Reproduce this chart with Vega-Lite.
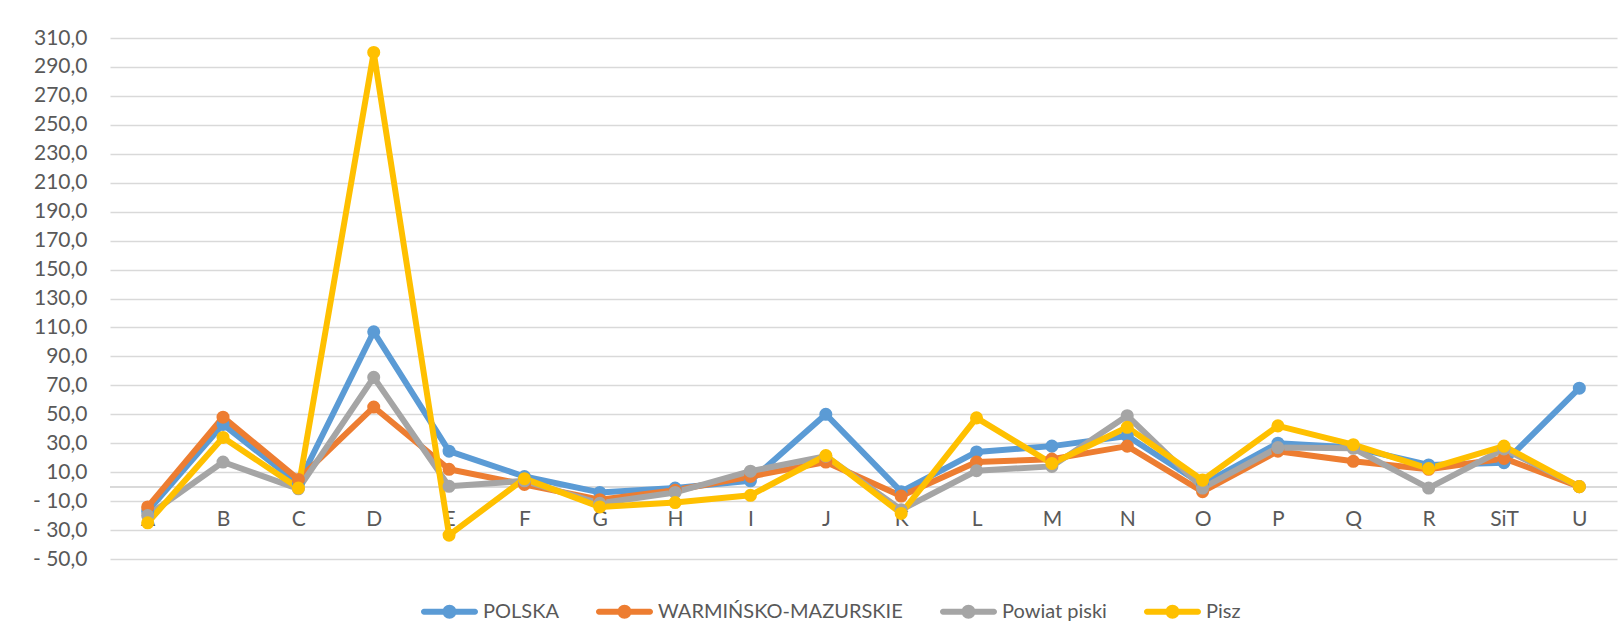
{
  "$schema": "https://vega.github.io/schema/vega-lite/v6.json",
  "width": 1507,
  "height": 521,
  "autosize": {"type": "none"},
  "padding": {"left": 110, "top": 38, "right": 7, "bottom": 84},
  "background": "white",
  "config": {
    "font": "Lato",
    "view": {"stroke": null},
    "axis": {"labelFont": "Lato", "labelColor": "#595959", "labelFontSize": 21}
  },
  "data": {"values": [
    {"cat": "A", "series": "POLSKA", "value": -17},
    {"cat": "B", "series": "POLSKA", "value": 43},
    {"cat": "C", "series": "POLSKA", "value": 2},
    {"cat": "D", "series": "POLSKA", "value": 107},
    {"cat": "E", "series": "POLSKA", "value": 24.5},
    {"cat": "F", "series": "POLSKA", "value": 7},
    {"cat": "G", "series": "POLSKA", "value": -4},
    {"cat": "H", "series": "POLSKA", "value": -1},
    {"cat": "I", "series": "POLSKA", "value": 4},
    {"cat": "J", "series": "POLSKA", "value": 50},
    {"cat": "K", "series": "POLSKA", "value": -3.5},
    {"cat": "L", "series": "POLSKA", "value": 24},
    {"cat": "M", "series": "POLSKA", "value": 28},
    {"cat": "N", "series": "POLSKA", "value": 35},
    {"cat": "O", "series": "POLSKA", "value": 1.5},
    {"cat": "P", "series": "POLSKA", "value": 30},
    {"cat": "Q", "series": "POLSKA", "value": 27},
    {"cat": "R", "series": "POLSKA", "value": 15},
    {"cat": "SiT", "series": "POLSKA", "value": 16.5},
    {"cat": "U", "series": "POLSKA", "value": 68},
    {"cat": "A", "series": "WARMIŃSKO-MAZURSKIE", "value": -14},
    {"cat": "B", "series": "WARMIŃSKO-MAZURSKIE", "value": 48},
    {"cat": "C", "series": "WARMIŃSKO-MAZURSKIE", "value": 5},
    {"cat": "D", "series": "WARMIŃSKO-MAZURSKIE", "value": 55},
    {"cat": "E", "series": "WARMIŃSKO-MAZURSKIE", "value": 12},
    {"cat": "F", "series": "WARMIŃSKO-MAZURSKIE", "value": 1.5},
    {"cat": "G", "series": "WARMIŃSKO-MAZURSKIE", "value": -9},
    {"cat": "H", "series": "WARMIŃSKO-MAZURSKIE", "value": -2.5},
    {"cat": "I", "series": "WARMIŃSKO-MAZURSKIE", "value": 7},
    {"cat": "J", "series": "WARMIŃSKO-MAZURSKIE", "value": 17},
    {"cat": "K", "series": "WARMIŃSKO-MAZURSKIE", "value": -6.5},
    {"cat": "L", "series": "WARMIŃSKO-MAZURSKIE", "value": 17},
    {"cat": "M", "series": "WARMIŃSKO-MAZURSKIE", "value": 19},
    {"cat": "N", "series": "WARMIŃSKO-MAZURSKIE", "value": 28},
    {"cat": "O", "series": "WARMIŃSKO-MAZURSKIE", "value": -3.5},
    {"cat": "P", "series": "WARMIŃSKO-MAZURSKIE", "value": 24.5},
    {"cat": "Q", "series": "WARMIŃSKO-MAZURSKIE", "value": 17.5},
    {"cat": "R", "series": "WARMIŃSKO-MAZURSKIE", "value": 12},
    {"cat": "SiT", "series": "WARMIŃSKO-MAZURSKIE", "value": 19.5},
    {"cat": "U", "series": "WARMIŃSKO-MAZURSKIE", "value": 0},
    {"cat": "A", "series": "Powiat piski", "value": -20},
    {"cat": "B", "series": "Powiat piski", "value": 17},
    {"cat": "C", "series": "Powiat piski", "value": -1.5},
    {"cat": "D", "series": "Powiat piski", "value": 75.5},
    {"cat": "E", "series": "Powiat piski", "value": 0.2},
    {"cat": "F", "series": "Powiat piski", "value": 4},
    {"cat": "G", "series": "Powiat piski", "value": -11.5},
    {"cat": "H", "series": "Powiat piski", "value": -4},
    {"cat": "I", "series": "Powiat piski", "value": 10.7},
    {"cat": "J", "series": "Powiat piski", "value": 21},
    {"cat": "K", "series": "Powiat piski", "value": -16},
    {"cat": "L", "series": "Powiat piski", "value": 11},
    {"cat": "M", "series": "Powiat piski", "value": 14},
    {"cat": "N", "series": "Powiat piski", "value": 49},
    {"cat": "O", "series": "Powiat piski", "value": -1},
    {"cat": "P", "series": "Powiat piski", "value": 27},
    {"cat": "Q", "series": "Powiat piski", "value": 26.5},
    {"cat": "R", "series": "Powiat piski", "value": -1},
    {"cat": "SiT", "series": "Powiat piski", "value": 26},
    {"cat": "U", "series": "Powiat piski", "value": 0},
    {"cat": "A", "series": "Pisz", "value": -25},
    {"cat": "B", "series": "Pisz", "value": 34},
    {"cat": "C", "series": "Pisz", "value": -1},
    {"cat": "D", "series": "Pisz", "value": 300},
    {"cat": "E", "series": "Pisz", "value": -33.5},
    {"cat": "F", "series": "Pisz", "value": 5.5},
    {"cat": "G", "series": "Pisz", "value": -14},
    {"cat": "H", "series": "Pisz", "value": -11},
    {"cat": "I", "series": "Pisz", "value": -6},
    {"cat": "J", "series": "Pisz", "value": 21.5},
    {"cat": "K", "series": "Pisz", "value": -18.5},
    {"cat": "L", "series": "Pisz", "value": 47.5},
    {"cat": "M", "series": "Pisz", "value": 16},
    {"cat": "N", "series": "Pisz", "value": 41},
    {"cat": "O", "series": "Pisz", "value": 4.5},
    {"cat": "P", "series": "Pisz", "value": 42},
    {"cat": "Q", "series": "Pisz", "value": 29},
    {"cat": "R", "series": "Pisz", "value": 12.5},
    {"cat": "SiT", "series": "Pisz", "value": 28},
    {"cat": "U", "series": "Pisz", "value": 0}
  ]},
  "encoding": {
    "x": {
      "field": "cat", "type": "nominal",
      "scale": {"type": "point", "padding": 0.5, "domain": ["A","B","C","D","E","F","G","H","I","J","K","L","M","N","O","P","Q","R","SiT","U"]},
      "axis": {"title": null, "offset": -73, "domain": false, "ticks": false, "tickSize": 0, "labelPadding": 22, "labelAngle": 0, "grid": false, "zindex": 0}
    },
    "y": {
      "field": "value", "type": "quantitative",
      "scale": {"domain": [-50, 310], "nice": false, "zero": false},
      "axis": {
        "title": null,
        "values": [-50,-30,-10,10,30,50,70,90,110,130,150,170,190,210,230,250,270,290,310],
        "labelExpr": "datum.value < 0 ? '- ' + replace(format(-datum.value, '.1f'), '.', ',') : replace(format(datum.value, '.1f'), '.', ',')",
        "domain": false, "ticks": false, "tickSize": 0, "labelPadding": 23,
        "grid": true, "gridColor": "#D9D9D9", "gridWidth": 1.5
      }
    },
    "color": {
      "field": "series", "type": "nominal",
      "scale": {"domain": ["POLSKA", "WARMIŃSKO-MAZURSKIE", "Powiat piski", "Pisz"], "range": ["#5B9BD5", "#ED7D31", "#A5A5A5", "#FFC000"]},
      "legend": {
        "title": null,
        "orient": "none",
        "direction": "horizontal",
        "legendX": 311,
        "legendY": 545,
        "symbolType": "M-0.895,-0.105 L0.895,-0.105 A0.105,0.105 0 0 1 0.895,0.105 L-0.895,0.105 A0.105,0.105 0 0 1 -0.895,-0.105 Z M0.245,0 A0.245,0.245 0 1 1 -0.245,0 A0.245,0.245 0 1 1 0.245,0 Z",
        "symbolSize": 3249,
        "symbolStrokeWidth": 0,
        "labelFont": "Lato",
        "labelFontSize": 20,
        "labelColor": "#595959",
        "labelLimit": 0,
        "labelOffset": 5,
        "columnPadding": 36,
        "encode": {"symbols": {"update": {"fill": {"scale": "color", "field": "value"}, "stroke": {"value": "transparent"}, "opacity": {"value": 1}}}}
      }
    }
  },
  "layer": [
    {
      "mark": {"type": "rule", "color": "#D9D9D9", "strokeWidth": 1.5},
      "encoding": {"y": {"datum": 0}, "x": null, "color": null}
    },
    {
      "mark": {"type": "line", "strokeWidth": 6, "strokeJoin": "round", "strokeCap": "round"}
    },
    {
      "mark": {"type": "point", "filled": true, "shape": "circle", "size": 170, "opacity": 1}
    }
  ]
}
